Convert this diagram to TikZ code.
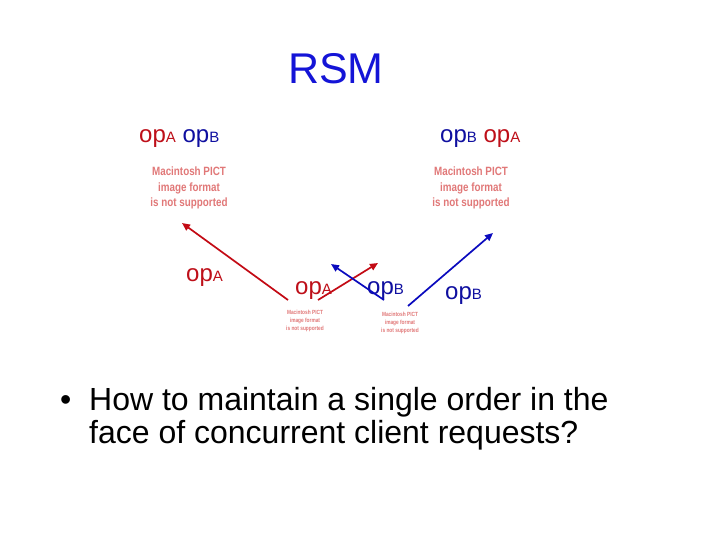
\documentclass[tikz,border=0pt]{standalone}
\usepackage{fontspec}
\setmainfont{Liberation Sans}
\usetikzlibrary{arrows.meta}
\definecolor{titleblue}{RGB}{20,20,215}
\definecolor{opred}{RGB}{190,15,25}
\definecolor{opblue}{RGB}{15,15,160}
\definecolor{arrred}{RGB}{195,10,20}
\definecolor{arrblue}{RGB}{10,10,190}
\definecolor{pict}{RGB}{225,120,120}
\newcommand{\opl}[1]{op{\fontsize{15}{15}\selectfont #1}}
\tikzset{
  oplab/.style={font=\fontsize{24}{24}\selectfont, inner sep=0pt},
  pictbig/.style={font=\fontsize{12}{15.5}\selectfont\bfseries, text=pict, align=center, inner sep=0pt, xscale=0.82},
  pictsmall/.style={font=\fontsize{6}{8}\selectfont\bfseries, text=pict, align=center, inner sep=0pt, xscale=0.8},
  redarr/.style={draw=arrred, line width=1.7pt, -{Triangle[length=8pt,width=7pt]}},
  bluearr/.style={draw=arrblue, line width=1.7pt, -{Triangle[length=8pt,width=7pt]}},
  bodytext/.style={font=\fontsize{32}{32}\selectfont, inner sep=0pt, anchor=base west},
}
\begin{document}
\begin{tikzpicture}[x=1pt,y=-1pt]
\useasboundingbox[fill=white] (0,0) rectangle (720,540);
\node[text=titleblue, font=\fontsize{43}{43}\selectfont, inner sep=0pt] (title) at (336,69) {RSM};
\node[oplab, anchor=base west] (tl) at (139,143) {\textcolor{opred}{\opl{A}} \textcolor{opblue}{\opl{B}}};
\node[oplab, anchor=base west] (tr) at (440,143) {\textcolor{opblue}{\opl{B}} \textcolor{opred}{\opl{A}}};
\node[pictbig] (p1) at (189,188) {Macintosh PICT\\image format\\is not supported};
\node[pictbig] (p2) at (471,188) {Macintosh PICT\\image format\\is not supported};
\node[pictsmall] (p3) at (305,321) {Macintosh PICT\\image format\\is not supported};
\node[pictsmall] (p4) at (400,323) {Macintosh PICT\\image format\\is not supported};
\node[oplab, text=opred, anchor=base west] (la) at (186,281) {\opl{A}};
\node[oplab, text=opred, anchor=base west] (lb) at (295,294) {\opl{A}};
\node[oplab, text=opblue, anchor=base west] (lc) at (367,294) {\opl{B}};
\node[oplab, text=opblue, anchor=base west] (ld) at (445,299) {\opl{B}};
\coordinate (s1) at (288,300);
\coordinate (e1) at (182,223);
\coordinate (s2) at (318,300);
\coordinate (e2) at (378,263);
\coordinate (s3) at (384,300);
\coordinate (e3) at (331,264);
\coordinate (s4) at (408,306);
\coordinate (e4) at (493,233);
\draw[redarr] (s1) -- (e1);
\draw[redarr] (s2) -- (e2);
\draw[bluearr] (s3) -- (e3);
\draw[bluearr] (s4) -- (e4);
\node[bodytext] (bul) at (60,410) {\textbullet};
\node[bodytext] (line1) at (89,410) {How to maintain a single order in the};
\node[bodytext] (line2) at (89,443) {face of concurrent client requests?};
\end{tikzpicture}
\end{document}
